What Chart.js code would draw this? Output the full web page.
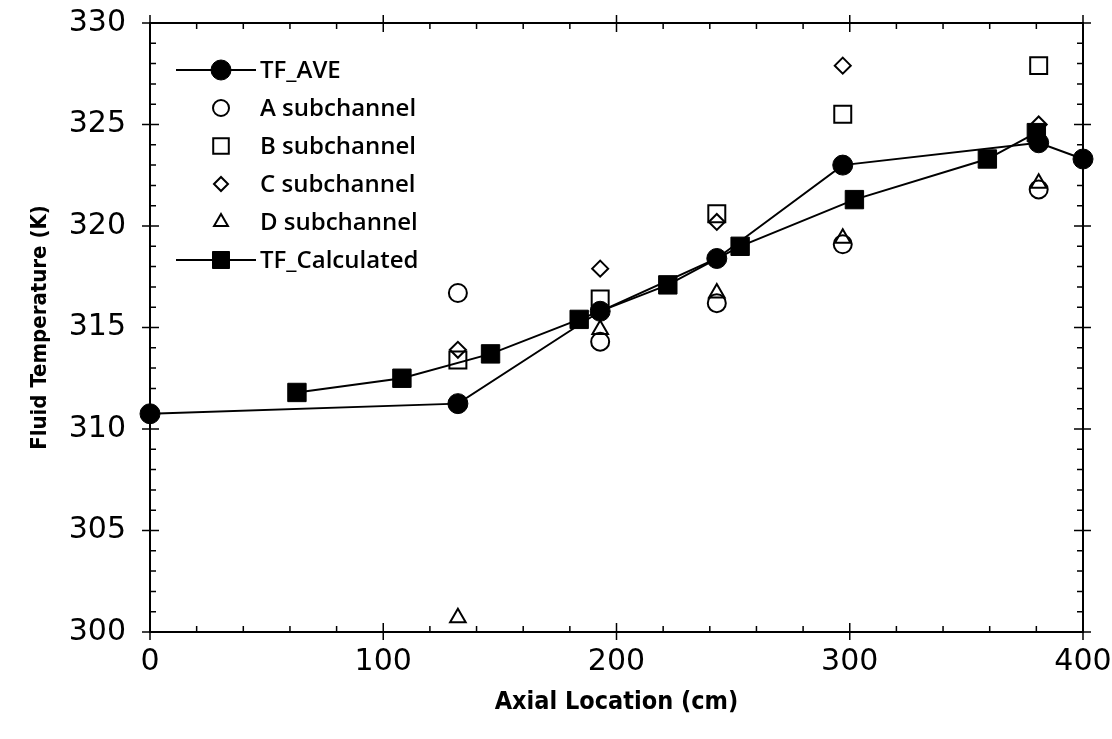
<!DOCTYPE html>
<html>
<head>
<meta charset="utf-8">
<script src="https://cdn.jsdelivr.net/npm/chart.js@4.4.1/dist/chart.umd.min.js"></script>
<style>
  html, body { margin: 0; padding: 0; background: #fff; }
  #wrap { width: 1112px; height: 739px; }
</style>
</head>
<body>
<div id="wrap"><canvas id="tempChart" width="1112" height="739"></canvas></div>
<script>
// --- DATA ---
const tfAveX = [0, 132, 193, 243, 297, 381, 400];
const tfAveY = [310.75, 311.25, 315.8, 318.4, 323.0, 324.1, 323.3];

const tfCalcX = [63, 108, 146, 184, 222, 253, 302, 359, 380];
const tfCalcY = [311.8, 312.5, 313.7, 315.4, 317.1, 319.0, 321.3, 323.3, 324.6];

const subX = [132, 193, 243, 297, 381];
const subA = [316.7, 314.3, 316.2, 319.1, 321.8];
const subB = [313.4, 316.4, 320.6, 325.5, 327.9];
const subC = [313.9, 317.9, 320.2, 327.9, 325.0];
const subD = [300.7, 314.9, 316.7, 319.4, 322.1];

const xTicks = [0, 100, 200, 300, 400];
const yTicks = [300, 305, 310, 315, 320, 325, 330];

function pts(xs, ys) { return xs.map((x, i) => ({ x: x, y: ys[i] })); }

const TICK_FONT = { family: 'DejaVu Sans', size: 30 };
const XTITLE_FONT = { family: 'DejaVu Sans Condensed', size: 25, weight: 'bold' };
const YTITLE_FONT = { family: 'DejaVu Sans Condensed', size: 22, weight: 'bold' };
const LEGEND_FONT = '600 24px "Open Sans"';

// --- frame + inward minor ticks, major ticks crossing the frame ---
const frameTicks = {
  id: 'frameTicks',
  afterDraw(chart) {
    const { ctx, chartArea: a, scales: { x, y } } = chart;
    ctx.save();
    ctx.strokeStyle = '#000';
    ctx.lineWidth = 2;
    ctx.strokeRect(a.left, a.top, a.right - a.left, a.bottom - a.top);
    ctx.lineWidth = 1.5;
    ctx.beginPath();
    for (let v = 0; v <= 400; v += 20) {
      const px = x.getPixelForValue(v);
      const major = v % 100 === 0;
      const inn = major ? 9 : 6, out = major ? 8 : 0;
      ctx.moveTo(px, a.bottom + out); ctx.lineTo(px, a.bottom - inn);
      ctx.moveTo(px, a.top - out); ctx.lineTo(px, a.top + inn);
    }
    for (let v = 300; v <= 330; v += 1) {
      const py = y.getPixelForValue(v);
      const major = v % 5 === 0;
      const inn = major ? 9 : 6, out = major ? 8 : 0;
      ctx.moveTo(a.left - out, py); ctx.lineTo(a.left + inn, py);
      ctx.moveTo(a.right + out, py); ctx.lineTo(a.right - inn, py);
    }
    ctx.stroke();
    ctx.restore();
  }
};

// --- legend drawn inside the plot, top-left ---
const innerLegend = {
  id: 'innerLegend',
  afterDraw(chart) {
    const { ctx } = chart;
    const mx = 221, tx = 260;
    let ly = 70;
    ctx.save();
    ctx.font = LEGEND_FONT;
    ctx.textBaseline = 'middle';
    ctx.textAlign = 'left';
    chart.data.datasets.forEach(ds => {
      ctx.strokeStyle = '#000';
      ctx.fillStyle = ds.pointBackgroundColor;
      if (ds.showLine) {
        ctx.lineWidth = 2;
        ctx.beginPath();
        ctx.moveTo(176, ly); ctx.lineTo(256, ly);
        ctx.stroke();
      }
      ctx.lineWidth = ds.pointBorderWidth;
      const r = ds.legendRadius || ds.pointRadius;
      Chart.helpers.drawPoint(ctx, { pointStyle: ds.pointStyle, radius: r, borderWidth: ds.pointBorderWidth, rotation: 0 }, mx, ly);
      ctx.fillStyle = '#000';
      ctx.fillText(ds.label, tx, ly + 1);
      ly += 38;
    });
    ctx.restore();
  }
};

function openSet(label, ys, style, r) {
  return {
    label: label,
    data: pts(subX, ys),
    showLine: false,
    pointStyle: style,
    pointRadius: r,
    legendRadius: r - 1,
    pointBorderWidth: 2,
    pointBorderColor: '#000',
    pointBackgroundColor: 'rgba(255,255,255,0)',
    clip: false
  };
}

// keep the plot frame where the figure has it; labels may overhang
function noPad(s) {
  s.paddingTop = 0; s.paddingBottom = 0; s.paddingLeft = 0; s.paddingRight = 0;
}

new Chart(document.getElementById('tempChart'), {
  type: 'scatter',
  data: {
    datasets: [
      {
        label: 'TF_AVE',
        data: pts(tfAveX, tfAveY),
        showLine: true,
        borderColor: '#000',
        borderWidth: 2,
        pointStyle: 'circle',
        pointRadius: 10,
        pointBorderWidth: 1,
        pointBorderColor: '#000',
        pointBackgroundColor: '#000',
        clip: false
      },
      openSet('A subchannel', subA, 'circle', 9),
      openSet('B subchannel', subB, 'rect', 12),
      openSet('C subchannel', subC, 'rectRot', 8),
      openSet('D subchannel', subD, 'triangle', 9),
      {
        label: 'TF_Calculated',
        data: pts(tfCalcX, tfCalcY),
        showLine: true,
        borderColor: '#000',
        borderWidth: 2,
        pointStyle: 'rect',
        pointRadius: 13,
        legendRadius: 12,
        pointBorderWidth: 1,
        pointBorderColor: '#000',
        pointBackgroundColor: '#000',
        clip: false
      }
    ]
  },
  options: {
    responsive: false,
    animation: false,
    layout: { padding: { top: 23, right: 29, left: 0, bottom: 0 } },
    plugins: { legend: { display: false }, tooltip: { enabled: false } },
    scales: {
      x: {
        type: 'linear', min: 0, max: 400,
        afterBuildTicks: s => { s.ticks = xTicks.map(v => ({ value: v })); },
        afterFit: s => { s.height = 107; noPad(s); },
        ticks: { font: TICK_FONT, color: '#000', padding: 12, maxRotation: 0 },
        grid: { display: false, drawTicks: false },
        border: { display: false },
        title: { display: true, text: 'Axial Location (cm)', font: XTITLE_FONT, color: '#000', padding: { top: 0, bottom: 22 } }
      },
      y: {
        type: 'linear', min: 300, max: 330,
        afterBuildTicks: s => { s.ticks = yTicks.map(v => ({ value: v })); },
        afterFit: s => { s.width = 150; noPad(s); },
        ticks: { font: TICK_FONT, color: '#000', padding: 24 },
        grid: { display: false, drawTicks: false },
        border: { display: false },
        title: { display: true, text: 'Fluid Temperature (K)', font: YTITLE_FONT, color: '#000', padding: { top: 27, bottom: 0 } }
      }
    }
  },
  plugins: [frameTicks, innerLegend]
});
</script>
</body>
</html>
